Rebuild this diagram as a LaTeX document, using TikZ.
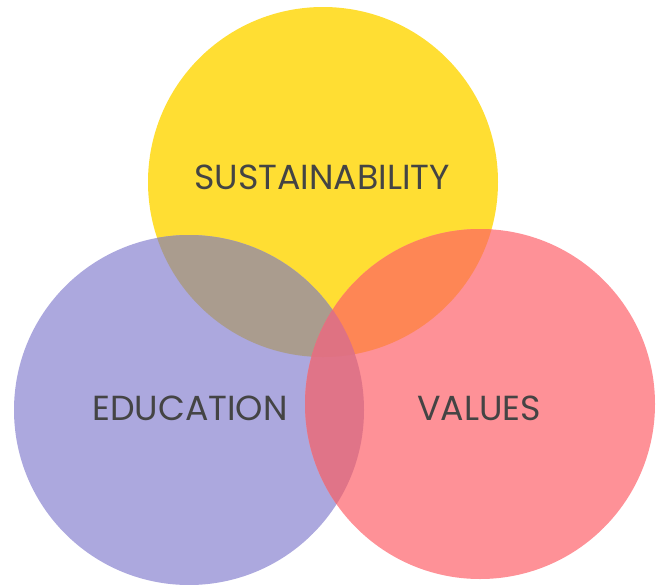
\documentclass[tikz,border=0pt]{standalone}
\usepackage{fontspec}
\setmainfont{Poppins}
\definecolor{cy}{HTML}{FFDE33}
\definecolor{cp}{HTML}{ACA8DE}
\definecolor{cr}{HTML}{FE9197}
\definecolor{cyp}{HTML}{AA9C8E}
\definecolor{cyr}{HTML}{FE8655}
\definecolor{cpr}{HTML}{E07488}
\definecolor{cypr}{HTML}{DF7282}
\definecolor{txt}{HTML}{444444}
\begin{document}
\begin{tikzpicture}[x=1pt,y=-1pt,
  lbl/.style={text=txt,font=\fontsize{34.8}{40}\selectfont,inner sep=0pt}]
\useasboundingbox (0,0) rectangle (664,584);
\def\Y{(323,182) circle[radius=175]}
\def\P{(189,410) circle[radius=175]}
\def\R{(480,404) circle[radius=175]}
\fill[cy] \Y;
\fill[cp] \P;
\fill[cr] \R;
\begin{scope}\clip \Y; \fill[cyp] \P; \end{scope}
\begin{scope}\clip \Y; \fill[cyr] \R; \end{scope}
\begin{scope}\clip \P; \fill[cpr] \R; \end{scope}
\begin{scope}\clip \Y; \clip \P; \fill[cypr] \R; \end{scope}
\node[lbl] (s) at (322,177) {SUSTAINABILITY};
\node[lbl] (e) at (190,408) {EDUCATION};
\node[lbl] (v) at (479,408) {VALUES};
\end{tikzpicture}
\end{document}
